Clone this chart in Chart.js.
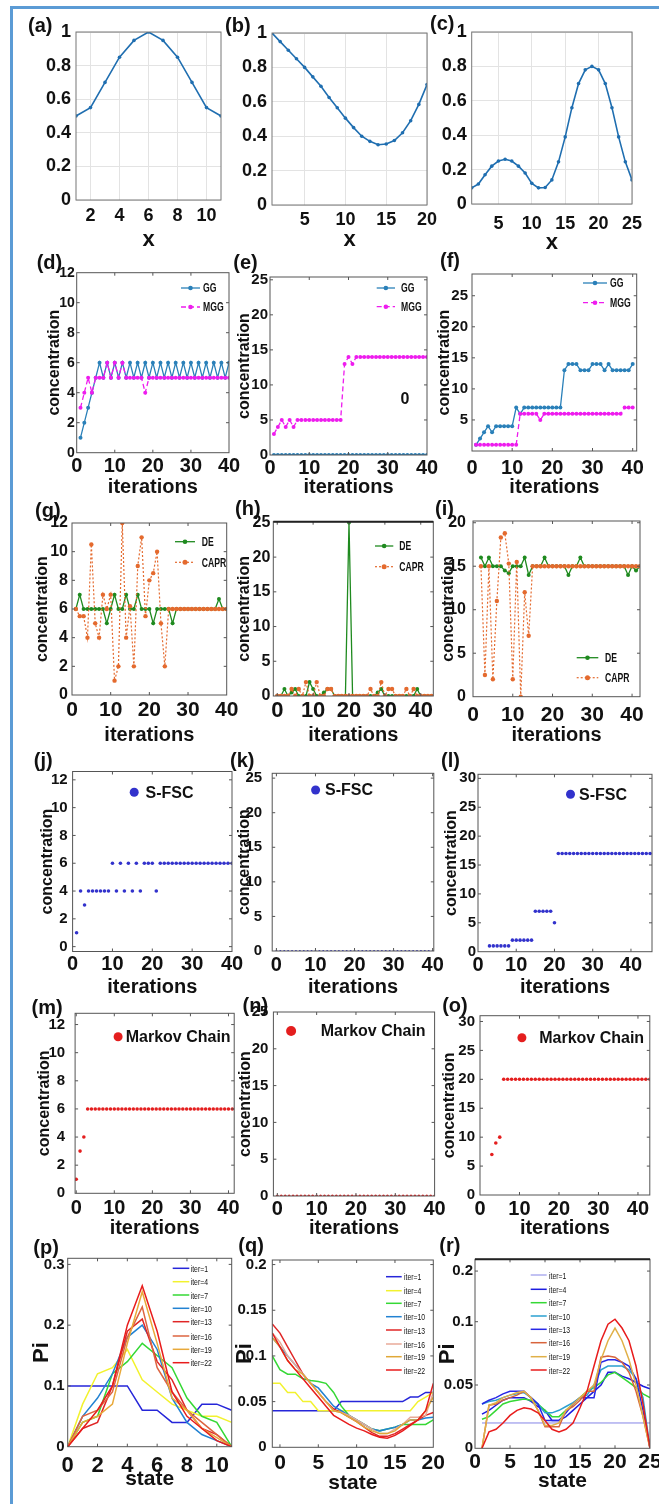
<!DOCTYPE html>
<html>
<head>
<meta charset="utf-8">
<script src="https://cdn.jsdelivr.net/npm/chart.js@4.4.0/dist/chart.umd.min.js"></script>
<style>
  html, body { margin: 0; padding: 0; background: #fff; }
  body { width: 659px; height: 1504px; position: relative; overflow: hidden; }
  canvas { position: absolute; }
  .border { position: absolute; left: 10px; top: 6px; width: 700px; height: 1600px;
            border-left: 3px solid #5b9bd5; border-top: 3px solid #5b9bd5; }
  .tag { position: absolute; font: bold 20px "Liberation Sans", Arial, sans-serif; line-height: 22px; color: #111; }
</style>
</head>
<body>
<div class="border"></div>
<script>
function seq(a, b) { const r = []; for (let v = a; v <= b; v++) r.push(v); return r; }

// ---- row 1: test functions ----
const aX = seq(1, 11);
const aVal = [0.5, 0.55, 0.7, 0.85, 0.95, 1.0, 0.95, 0.85, 0.7, 0.55, 0.5];
const bX = seq(1, 20);
const bVal = [1.0, 0.95, 0.90, 0.85, 0.80, 0.745, 0.69, 0.625, 0.565, 0.505,
              0.45, 0.40, 0.37, 0.35, 0.355, 0.375, 0.42, 0.49, 0.585, 0.70];
const cX = seq(1, 25);
const cVal = [0.094, 0.116, 0.17, 0.22, 0.25, 0.26, 0.25, 0.22, 0.18, 0.12,
              0.094, 0.096, 0.14, 0.245, 0.39, 0.56, 0.70, 0.78, 0.80, 0.78,
              0.70, 0.56, 0.39, 0.245, 0.14];

// ---- row 2: GG / MGG ----
const it40 = seq(1, 40);
const dGG  = [1,2,3,4,5,6,5,6,5,6, 5,6,5,6,5,6,5,6,5,6, 5,6,5,6,5,6,5,6,5,6, 5,6,5,6,5,6,5,6,5,6];
const dMGG = [3,4,5,4,5,5,5,6,5,6, 5,6,5,5,5,5,5,4,5,5, 5,5,5,5,5,5,5,5,5,5, 5,5,5,5,5,5,5,5,5,5];
const eGG  = [0,0,0,0,0,0,0,0,0,0, 0,0,0,0,0,0,0,0,0,0, 0,0,0,0,0,0,0,0,0,0, 0,0,0,0,0,0,0,0,0,0];
const eMGG = [3,4,5,4,5,4,5,5,5,5, 5,5,5,5,5,5,5,5,13,14, 13,14,14,14,14,14,14,14,14,14, 14,14,14,14,14,14,14,14,14,14];
const fGG  = [1,2,3,4,3,4,4,4,4,4, 7,6,7,7,7,7,7,7,7,7, 7,7,13,14,14,14,13,13,13,14, 14,14,13,14,13,13,13,13,13,14];
const fMGG = [1,1,1,1,1,1,1,1,1,1, 1,6,6,6,6,6,5,6,6,6, 6,6,6,6,6,6,6,6,6,6, 6,6,6,6,6,6,6,7,7,7];

// ---- row 3: DE / CAPR ----
const gDE   = [6,7,6,6,6,6,6,6,5,6, 7,6,6,7,6,6,7,6,6,6, 5,6,6,6,6,5,6,6,6,6, 6,6,6,6,6,6,6,6.7,6,6];
const gCAPR = [6,5.5,5.5,4,10.5,5,4,7,6,7, 1,2,12,4,6.2,2,9,11,5.5,8, 8.5,10,5,2,6,6,6,6,6,6, 6,6,6,6,6,6,6,6,6,6];
const hX = seq(0, 43);
const hDE   = [0,0,1,0,0.5,1,0,0,0,2, 1,0,0,0.5,1,1,0,0,0,0, 25,0,0,0,0,0,0,0,0.5,1, 0,0,0,0,0,0,0,0,0,1, 0,0,0,0];
const hCAPR = [0,0,0,0,1,0,1,0,2,0, 0,2,0,0,1,1,0,0,0,0, 0,0,0,0,0,0,1,0,0,2, 0,1,1,0,0,0,1,0,1,0, 0,0,0,0];
const iX = seq(2, 42);
const iDE   = [16,15,16,15,15,15,14.5,14.2,15,15, 15,16,14,15,15,15,16,15,15,15, 15,15,14,15,15,16,15,15,15,15,
               15,15,15,15,15,15,15,14,15,14.5, 15];
const iCAPR = [15,2.5,15,2,11,18.3,18.8,15.3,2,15.5, 0,12,7,15,15,15,15,15,15,15, 15,15,15,15,15,15,15,15,15,15,
               15,15,15,15,15,15,15,15,15,15, 15];

// ---- row 4: S-FSC ----
const jVal = [1,4,3,4,4,4,4,4,4,6, 4,6,4,6,4,6,4,6,6,6, 4,6,6,6,6,6,6,6,6,6, 6,6,6,6,6,6,6,6,6,6];
const kX = seq(0, 40);
const kVal = [0,0,0,0,0,0,0,0,0,0, 0,0,0,0,0,0,0,0,0,0, 0,0,0,0,0,0,0,0,0,0, 0,0,0,0,0,0,0,0,0,0, 0];
const lX = seq(3, 45);
const lVal = [1,1,1,1,1,1,2,2,2,2, 2,2,7,7,7,7,7,5,17,17, 17,17,17,17,17,17,17,17,17,17,
              17,17,17,17,17,17,17,17,17,17, 17,17,17];

// ---- row 5: Markov chain ----
const mX = seq(0, 41);
const mVal = [1,3,4,6,6,6,6,6,6,6, 6,6,6,6,6,6,6,6,6,6, 6,6,6,6,6,6,6,6,6,6, 6,6,6,6,6,6,6,6,6,6, 6,6];
const nX = seq(0, 40);
const nVal = [0,0,0,0,0,0,0,0,0,0, 0,0,0,0,0,0,0,0,0,0, 0,0,0,0,0,0,0,0,0,0, 0,0,0,0,0,0,0,0,0,0, 0];
const oX = seq(3, 43);
const oVal = [7,9,10,20,20,20,20,20,20,20, 20,20,20,20,20,20,20,20,20,20, 20,20,20,20,20,20,20,20,20,20,
              20,20,20,20,20,20,20,20,20,20, 20];

// ---- row 6: stationary distributions ----
const iterLabels = ['iter=1', 'iter=4', 'iter=7', 'iter=10', 'iter=13', 'iter=16', 'iter=19', 'iter=22'];
const pX = seq(0, 11);
const pPi = [
  [0.1,0.1,0.1,0.1,0.1,0.06,0.06,0.04,0.04,0.07,0.07,0.06],
  [0,0.07,0.12,0.13,0.16,0.11,0.09,0.07,0.06,0.05,0.05,0.04],
  [0,0.04,0.05,0.12,0.14,0.17,0.15,0.13,0.08,0.05,0.04,0],
  [0,0.05,0.08,0.12,0.18,0.20,0.16,0.08,0.04,0.02,0.01,0],
  [0,0.03,0.04,0.10,0.19,0.21,0.14,0.11,0.06,0.03,0.02,0],
  [0,0.05,0.06,0.09,0.18,0.23,0.13,0.09,0.06,0.04,0.02,0],
  [0,0.04,0.05,0.07,0.17,0.255,0.17,0.08,0.06,0.03,0.015,0],
  [0,0.03,0.06,0.10,0.20,0.265,0.19,0.09,0.05,0.03,0.01,0]
];
const qX = seq(-1, 20);
const qPi = [
  [0.04,0.04,0.04,0.04,0.04,0.04,0.04,0.04,0.04,0.05, 0.05,0.05,0.05,0.05,0.05,0.05,0.05,0.05,0.055,0.055, 0.06,0.06],
  [0.07,0.07,0.06,0.06,0.05,0.05,0.04,0.04,0.04,0.04, 0.04,0.04,0.04,0.04,0.04,0.04,0.04,0.04,0.04,0.05, 0.055,0.06],
  [0.10,0.085,0.08,0.08,0.075,0.073,0.072,0.07,0.06,0.045, 0.035,0.03,0.025,0.02,0.018,0.02,0.022,0.025,0.025,0.025, 0.025,0.03],
  [0.12,0.11,0.10,0.09,0.08,0.07,0.065,0.055,0.045,0.04, 0.035,0.03,0.025,0.02,0.018,0.02,0.022,0.025,0.03,0.03, 0.032,0.033],
  [0.135,0.125,0.11,0.095,0.08,0.07,0.06,0.05,0.042,0.038, 0.033,0.028,0.022,0.016,0.012,0.012,0.015,0.02,0.025,0.03, 0.035,0.038],
  [0.125,0.115,0.10,0.09,0.08,0.07,0.06,0.05,0.04,0.038, 0.035,0.03,0.025,0.02,0.015,0.015,0.02,0.025,0.033,0.033, 0.035,0.06],
  [0.12,0.11,0.095,0.085,0.08,0.07,0.06,0.05,0.04,0.038, 0.033,0.028,0.022,0.018,0.015,0.015,0.018,0.025,0.03,0.03, 0.04,0.055],
  [0.125,0.11,0.095,0.085,0.075,0.065,0.055,0.045,0.035,0.03, 0.025,0.021,0.018,0.014,0.011,0.01,0.013,0.018,0.024,0.03, 0.04,0.07]
];
const rX = seq(1, 25);
const rPi = [
  [0.02,0.02,0.02,0.02,0.02,0.02,0.02,0.02,0.02,0.02, 0.02,0.02,0.02,0.02,0.02,0.02,0.02,0.02,0.02,0.02, 0.02,0.02,0.02,0.02,0.02],
  [0.027,0.03,0.034,0.038,0.04,0.04,0.04,0.037,0.033,0.03, 0.022,0.022,0.025,0.03,0.035,0.04,0.045,0.05,0.06,0.06, 0.057,0.055,0.052,0.049,0.047],
  [0.023,0.025,0.03,0.035,0.037,0.038,0.039,0.038,0.035,0.03, 0.025,0.025,0.03,0.035,0.04,0.045,0.048,0.052,0.058,0.06, 0.056,0.052,0.048,0.043,0.04],
  [0.035,0.037,0.038,0.04,0.042,0.043,0.044,0.04,0.035,0.028, 0.028,0.03,0.033,0.036,0.04,0.042,0.05,0.062,0.065,0.065, 0.065,0.062,0.055,0.04,0],
  [0.035,0.038,0.04,0.043,0.045,0.045,0.045,0.04,0.035,0.022, 0.022,0.022,0.028,0.035,0.04,0.04,0.04,0.068,0.07,0.07, 0.068,0.065,0.055,0.03,0],
  [0,0.034,0.035,0.038,0.04,0.042,0.045,0.04,0.03,0.017, 0.017,0.017,0.03,0.033,0.038,0.045,0.045,0.072,0.073,0.072, 0.068,0.06,0.045,0.025,0],
  [0,0.034,0.036,0.04,0.042,0.044,0.045,0.04,0.03,0.018, 0.018,0.02,0.03,0.035,0.04,0.045,0.05,0.07,0.085,0.095, 0.085,0.07,0.05,0.025,0],
  [0,0.013,0.015,0.02,0.026,0.03,0.032,0.031,0.028,0.022, 0.015,0.013,0.015,0.02,0.032,0.045,0.065,0.085,0.098,0.102, 0.095,0.085,0.065,0.035,0]
];

// ---- ticks ----
const unitTicks = [0, 0.2, 0.4, 0.6, 0.8, 1];
const aXTicks = [2, 4, 6, 8, 10];
const bXTicks = [5, 10, 15, 20];
const cXTicks = [5, 10, 15, 20, 25];
const iterTicks = [0, 10, 20, 30, 40];
const y12Ticks = [0, 2, 4, 6, 8, 10, 12];
const y25Ticks = [0, 5, 10, 15, 20, 25];
const fYTicks = [5, 10, 15, 20, 25];
const y20Ticks = [0, 5, 10, 15, 20];
const y30Ticks = [0, 5, 10, 15, 20, 25, 30];
const pXTicks = [0, 2, 4, 6, 8, 10];
const pYTicks = [0, 0.1, 0.2, 0.3];
const qXTicks = [0, 5, 10, 15, 20];
const qYTicks = [0, 0.05, 0.1, 0.15, 0.2];
const rXTicks = [0, 5, 10, 15, 20, 25];
const rYTicks = [0, 0.05, 0.1, 0.14];
const rYLabels = ['0', '0.05', '0.1', '0.2'];

// ---- colours ----
const LINE_BLUE = '#1f6eb0', GG_C = '#2a80b9', MGG_C = '#ee1cee', DE_C = '#1f8a1f', CAPR_C = '#e46a2e';
const FSC_C = '#3232cc', MC_C = '#e41e1e';
const pColors = ['#2626d9', '#f2f22e', '#35d835', '#2282d2', '#e02626', '#dd6440', '#e8a93a', '#e81c1c'];
const qColors = ['#2626d9', '#f2f22e', '#35d835', '#2282d2', '#e02626', '#e8aa98', '#e0a838', '#e81c1c'];
const rColors = ['#8585e6', '#1c1ce0', '#35d835', '#2ba0d0', '#2828e6', '#d8643c', '#e0b048', '#e81c1c'];

const FONT = '"Liberation Sans", Arial, Helvetica, sans-serif';

function pts(xs, ys) { return ys.map((y, i) => ({ x: xs[i], y })); }
function curve(label, xs, ys, color, o) {
  return Object.assign({ label, data: pts(xs, ys), borderColor: color, backgroundColor: color,
    pointBackgroundColor: color, pointBorderWidth: 0, borderWidth: 1.5, pointRadius: 0, tension: 0 }, o || {});
}
function dots(label, xs, ys, color, r) {
  return curve(label, xs, ys, color, { showLine: false, pointRadius: r });
}
function family(label, xs, rows, colors) {
  return rows.map((ys, i) => curve(label[i], xs, ys, colors[i], { borderWidth: 1.5 }));
}

// box, inner tick marks, legend and notes
const framePlugin = {
  id: 'frame',
  afterDatasetsDraw(chart, args, o) {
    const { ctx, chartArea: a, scales } = chart;
    ctx.save();
    ctx.setLineDash([]);
    ctx.strokeStyle = o.color || '#555';
    ctx.lineWidth = 1;
    ctx.strokeRect(a.left, a.top, a.right - a.left, a.bottom - a.top);
    if (o.ticks) {
      ctx.beginPath();
      scales.x.ticks.forEach(t => {
        const px = scales.x.getPixelForValue(t.value);
        if (px <= a.left + 1 || px >= a.right - 1) return;
        ctx.moveTo(px, a.bottom); ctx.lineTo(px, a.bottom - 3);
        ctx.moveTo(px, a.top); ctx.lineTo(px, a.top + 3);
      });
      scales.y.ticks.forEach(t => {
        const py = scales.y.getPixelForValue(t.value);
        if (py <= a.top + 1 || py >= a.bottom - 1) return;
        ctx.moveTo(a.left, py); ctx.lineTo(a.left + 3, py);
        ctx.moveTo(a.right, py); ctx.lineTo(a.right - 3, py);
      });
      ctx.stroke();
    }
    if (o.topDark) {
      ctx.strokeStyle = '#222'; ctx.lineWidth = 2;
      ctx.beginPath(); ctx.moveTo(a.left, a.top); ctx.lineTo(a.right, a.top); ctx.stroke();
    }
    (o.legend || []).forEach(e => {
      const d = chart.data.datasets[e.ds];
      const y = e.y - o.oy;
      if (e.dot) {
        ctx.fillStyle = d.borderColor;
        ctx.beginPath(); ctx.arc(e.cx - o.ox, y, e.dot, 0, Math.PI * 2); ctx.fill();
      } else {
        const x0 = o.lx0 - o.ox, x1 = o.lx1 - o.ox;
        ctx.strokeStyle = d.borderColor; ctx.lineWidth = d.borderWidth;
        ctx.setLineDash(d.borderDash || []);
        ctx.beginPath(); ctx.moveTo(x0, y); ctx.lineTo(x1, y); ctx.stroke();
        ctx.setLineDash([]);
        if (d.pointRadius) {
          ctx.fillStyle = d.borderColor;
          ctx.beginPath(); ctx.arc((x0 + x1) / 2, y, d.pointRadius + 0.3, 0, Math.PI * 2); ctx.fill();
        }
      }
      ctx.fillStyle = '#111';
      ctx.font = o.lfont;
      ctx.textBaseline = 'middle';
      ctx.textAlign = 'left';
      ctx.save();
      ctx.translate((e.tx || o.ltx) - o.ox, y + 1);
      ctx.scale(o.lsx || 1, 1);
      ctx.fillText(d.label, 0, 0);
      ctx.restore();
    });
    (o.notes || []).forEach(n => {
      ctx.fillStyle = '#111'; ctx.font = n.font;
      ctx.textAlign = 'center'; ctx.textBaseline = 'middle';
      ctx.fillText(n.text, scales.x.getPixelForValue(n.x), scales.y.getPixelForValue(n.y));
    });
    ctx.restore();
  }
};

function axis(a, grid, fit) {
  return {
    type: 'linear', min: a.min, max: a.max,
    afterBuildTicks: s => { s.ticks = a.ticks.map(v => ({ value: v })); },
    afterFit: s => { fit(s); s.paddingLeft = 0; s.paddingRight = 0; s.paddingTop = 0; s.paddingBottom = 0; },
    grid: { display: !!grid, color: '#e3e3e3', drawTicks: false },
    border: { display: false },
    ticks: {
      font: { family: FONT, size: a.size, weight: 'bold' }, color: '#111', padding: a.pad,
      maxRotation: 0, autoSkip: false,
      callback: (v, i) => a.labels ? a.labels[i] : String(v)
    },
    title: {
      display: !!a.title, text: a.title || '', color: '#111', padding: 0,
      font: { family: FONT, size: a.titleSize || 16, weight: 'bold' }
    }
  };
}

function panel(p) {
  const left = Math.round(p.y.title ? p.y.titleX - 0.6 * p.y.titleSize : p.box[0] - 45);
  const top = Math.round(p.box[1] - 12);
  const w = Math.round(p.box[2] + 16) - left;
  const h = Math.round(p.x.titleY + 0.6 * p.x.titleSize) - top;
  const ML = p.box[0] - left, MB = top + h - p.box[3];
  const cv = document.createElement('canvas');
  cv.width = w; cv.height = h;
  cv.style.left = left + 'px'; cv.style.top = top + 'px';
  document.body.appendChild(cv);
  const n = p.datasets.length;
  p.datasets.forEach((d, i) => { d.order = n - i; });
  new Chart(cv, {
    type: 'line',
    data: { datasets: p.datasets },
    options: {
      responsive: false, animation: false, devicePixelRatio: 1, events: [],
      layout: { padding: { left: 0, bottom: 0, top: p.box[1] - top, right: left + w - p.box[2] } },
      plugins: {
        legend: { display: false }, tooltip: { enabled: false },
        frame: Object.assign({ ox: left, oy: top, ticks: !p.grid, color: p.grid ? '#777' : '#555' }, p.frame || {})
      },
      scales: {
        x: axis(p.x, p.grid, s => { s.height = MB; }),
        y: axis(p.y, p.grid, s => { s.width = ML; })
      }
    },
    plugins: [framePlugin]
  });
  const t = document.createElement('div');
  t.className = 'tag';
  t.textContent = p.tag[0];
  t.style.left = p.tag[1] + 'px';
  t.style.top = (p.tag[2] - 11) + 'px';
  document.body.appendChild(t);
}

const smallLegend = 'bold 12px ' + FONT;
const bigLegend = 'bold 16px ' + FONT;
const iterLegend = '9.5px ' + FONT;
const iterLegendRows = (ys) => ys.map((y, i) => ({ ds: i, y }));

// ---------- row 1 ----------
panel({ box: [76, 32, 221, 200], tag: ['(a)', 28, 25], grid: true,
  x: { min: 1, max: 11, ticks: aXTicks, size: 18, pad: 5, title: 'x', titleY: 240, titleSize: 22 },
  y: { min: 0, max: 1, ticks: unitTicks, size: 18, pad: 5 },
  datasets: [curve('f(x)', aX, aVal, LINE_BLUE, { pointRadius: 1.8, borderWidth: 1.6 })] });
panel({ box: [272, 33, 427, 205], tag: ['(b)', 225, 25], grid: true,
  x: { min: 1, max: 20, ticks: bXTicks, size: 18, pad: 4, title: 'x', titleY: 240, titleSize: 22 },
  y: { min: 0, max: 1, ticks: unitTicks, size: 18, pad: 5 },
  datasets: [curve('f(x)', bX, bVal, LINE_BLUE, { pointRadius: 1.8, borderWidth: 1.6 })] });
panel({ box: [471.7, 32, 632, 204], tag: ['(c)', 430, 23], grid: true,
  x: { min: 1, max: 25, ticks: cXTicks, size: 18, pad: 9, title: 'x', titleY: 243, titleSize: 22 },
  y: { min: 0, max: 1, ticks: unitTicks, size: 18, pad: 5 },
  datasets: [curve('f(x)', cX, cVal, LINE_BLUE, { pointRadius: 1.8, borderWidth: 1.6 })] });

// ---------- row 2 ----------
const ggSet = (g, m) => [
  curve('GG', it40, g, GG_C, { pointRadius: 2, borderWidth: 1.3 }),
  curve('MGG', it40, m, MGG_C, { pointRadius: 2, borderWidth: 1.3, borderDash: [5, 3] })
];
panel({ box: [76.7, 272.7, 229, 452.7], tag: ['(d)', 36.7, 261.7],
  x: { min: 0, max: 40, ticks: iterTicks, size: 20, pad: 2, title: 'iterations', titleY: 487, titleSize: 20 },
  y: { min: 0, max: 12, ticks: y12Ticks, size: 14, pad: 2, title: 'concentration', titleX: 55, titleSize: 16 },
  datasets: ggSet(dGG, dMGG),
  frame: { legend: [{ ds: 0, y: 288 }, { ds: 1, y: 307 }], lx0: 181, lx1: 200, ltx: 203, lfont: smallLegend, lsx: 0.72 } });
panel({ box: [270, 277, 427, 455], tag: ['(e)', 233.3, 261.7],
  x: { min: 0, max: 40, ticks: iterTicks, size: 20, pad: 1, title: 'iterations', titleY: 487, titleSize: 20 },
  y: { min: 0, max: 25.4, ticks: y25Ticks, size: 15, pad: 2, title: 'concentration', titleX: 245, titleSize: 16 },
  datasets: ggSet(eGG, eMGG),
  frame: { legend: [{ ds: 0, y: 288 }, { ds: 1, y: 306.7 }], lx0: 376.7, lx1: 395, ltx: 401, lfont: smallLegend, lsx: 0.72,
           notes: [{ x: 34.4, y: 7.9, text: '0', font: 'bold 16px ' + FONT }] } });
panel({ box: [472, 274, 636.7, 451], tag: ['(f)', 440, 260],
  x: { min: 0, max: 41, ticks: iterTicks, size: 20, pad: 5, title: 'iterations', titleY: 487, titleSize: 20 },
  y: { min: 0, max: 28.5, ticks: fYTicks, size: 15, pad: 4, title: 'concentration', titleX: 445, titleSize: 16 },
  datasets: ggSet(fGG, fMGG),
  frame: { legend: [{ ds: 0, y: 283 }, { ds: 1, y: 302.7 }], lx0: 583, lx1: 607, ltx: 610, lfont: smallLegend, lsx: 0.72 } });

// ---------- row 3 ----------
const deSet = (xs, de, capr) => [
  curve('DE', xs, de, DE_C, { pointRadius: 2, borderWidth: 1.3 }),
  curve('CAPR', xs, capr, CAPR_C, { pointRadius: 2.2, borderWidth: 1.2, borderDash: [2, 2] })
];
panel({ box: [72, 523, 226.7, 695], tag: ['(g)', 35, 510],
  x: { min: 0, max: 40, ticks: iterTicks, size: 21, pad: 2.4, title: 'iterations', titleY: 735, titleSize: 20 },
  y: { min: 0, max: 12, ticks: y12Ticks, size: 16, pad: 4, title: 'concentration', titleX: 42.7, titleSize: 16 },
  datasets: deSet(it40, gDE, gCAPR),
  frame: { legend: [{ ds: 0, y: 541.7 }, { ds: 1, y: 562.3 }], lx0: 175, lx1: 195, ltx: 201.7, lfont: smallLegend, lsx: 0.72 } });
panel({ box: [273.3, 521.7, 433.3, 696], tag: ['(h)', 235, 508.3],
  x: { min: -1.1, max: 43.5, ticks: iterTicks, size: 22, pad: 1.5, title: 'iterations', titleY: 735, titleSize: 20 },
  y: { min: 0, max: 25.1, ticks: y25Ticks, size: 16, pad: 3, title: 'concentration', titleX: 245, titleSize: 16 },
  datasets: deSet(hX, hDE, hCAPR),
  frame: { topDark: true, legend: [{ ds: 0, y: 546 }, { ds: 1, y: 566.7 }], lx0: 375, lx1: 393.3, ltx: 399.3, lfont: smallLegend, lsx: 0.72 } });
panel({ box: [473, 521, 640, 696.7], tag: ['(i)', 435, 508.3],
  x: { min: 0, max: 42, ticks: iterTicks, size: 21, pad: 5.5, title: 'iterations', titleY: 735, titleSize: 20 },
  y: { min: 0, max: 20.2, ticks: y20Ticks, size: 16, pad: 7, title: 'concentration', titleX: 448.3, titleSize: 16 },
  datasets: deSet(iX, iDE, iCAPR),
  frame: { legend: [{ ds: 0, y: 657.7 }, { ds: 1, y: 677.7 }], lx0: 576.7, lx1: 598.3, ltx: 605, lfont: smallLegend, lsx: 0.72 } });

// ---------- row 4 ----------
panel({ box: [72.6, 771.5, 232, 951.5], tag: ['(j)', 33.8, 760],
  x: { min: 0, max: 40, ticks: iterTicks, size: 20, pad: 1, title: 'iterations', titleY: 987, titleSize: 20 },
  y: { min: -0.35, max: 12.6, ticks: y12Ticks, size: 15, pad: 5, title: 'concentration', titleX: 47.7, titleSize: 16 },
  datasets: [dots('S-FSC', it40, jVal, FSC_C, 1.8)],
  frame: { legend: [{ ds: 0, y: 792.3, cx: 134.2, dot: 4.5, tx: 145.6 }], lfont: bigLegend } });
panel({ box: [272.2, 773.3, 433.8, 951], tag: ['(k)', 230, 760],
  x: { min: -1.08, max: 40.3, ticks: iterTicks, size: 20, pad: 2, title: 'iterations', titleY: 987, titleSize: 20 },
  y: { min: 0, max: 25.7, ticks: y25Ticks, size: 15, pad: 10, title: 'concentration', titleX: 244.7, titleSize: 16 },
  datasets: [dots('S-FSC', kX, kVal, FSC_C, 1.0)],
  frame: { legend: [{ ds: 0, y: 790, cx: 315.6, dot: 4.5, tx: 325 }], lfont: bigLegend } });
panel({ box: [478, 774.3, 652, 951.7], tag: ['(l)', 441, 760],
  x: { min: 0, max: 45.5, ticks: iterTicks, size: 20, pad: 2, title: 'iterations', titleY: 987, titleSize: 20 },
  y: { min: 0, max: 30.7, ticks: y30Ticks, size: 15, pad: 2, title: 'concentration', titleX: 451.5, titleSize: 16 },
  datasets: [dots('S-FSC', lX, lVal, FSC_C, 1.8)],
  frame: { legend: [{ ds: 0, y: 794.3, cx: 570.5, dot: 4.5, tx: 579 }], lfont: bigLegend } });

// ---------- row 5 ----------
panel({ box: [75.1, 1013.3, 234.2, 1193.3], tag: ['(m)', 31.6, 1006.7],
  x: { min: -0.3, max: 41.5, ticks: iterTicks, size: 20, pad: 3, title: 'iterations', titleY: 1228, titleSize: 20 },
  y: { min: 0, max: 12.8, ticks: y12Ticks, size: 15, pad: 10, title: 'concentration', titleX: 44.3, titleSize: 16 },
  datasets: [dots('Markov Chain', mX, mVal, MC_C, 1.8)],
  frame: { legend: [{ ds: 0, y: 1036.7, cx: 118.1, dot: 4.5, tx: 125.7 }], lfont: bigLegend } });
panel({ box: [273.4, 1012, 434.6, 1196], tag: ['(n)', 242.6, 1005],
  x: { min: -1, max: 40, ticks: iterTicks, size: 20, pad: 1, title: 'iterations', titleY: 1228, titleSize: 20 },
  y: { min: 0, max: 25, ticks: y25Ticks, size: 15, pad: 5, title: 'concentration', titleX: 246, titleSize: 16 },
  datasets: [dots('Markov Chain', nX, nVal, MC_C, 1.5)],
  frame: { legend: [{ ds: 0, y: 1031, cx: 291.1, dot: 5, tx: 320.7 }], lfont: bigLegend } });
panel({ box: [480, 1015.7, 649.8, 1195], tag: ['(o)', 442.2, 1005],
  x: { min: 0, max: 43, ticks: iterTicks, size: 20, pad: 2, title: 'iterations', titleY: 1228, titleSize: 20 },
  y: { min: 0, max: 31, ticks: y30Ticks, size: 15, pad: 5, title: 'concentration', titleX: 449.4, titleSize: 16 },
  datasets: [dots('Markov Chain', oX, oVal, MC_C, 1.8)],
  frame: { legend: [{ ds: 0, y: 1037.7, cx: 521.9, dot: 4.5, tx: 539.2 }], lfont: bigLegend } });

// ---------- row 6 ----------
panel({ box: [67.7, 1258.3, 231.7, 1446.7], tag: ['(p)', 33.3, 1246.7],
  x: { min: 0, max: 11, ticks: pXTicks, size: 22, pad: 6, title: 'state', titleY: 1479.3, titleSize: 21 },
  y: { min: 0, max: 0.31, ticks: pYTicks, size: 15, pad: 3, title: 'Pi', titleX: 41.7, titleSize: 22 },
  datasets: family(iterLabels, pX, pPi, pColors),
  frame: { legend: iterLegendRows([1268.3, 1281.7, 1295, 1308.3, 1321.7, 1336, 1349.3, 1362.7]),
           lx0: 172.7, lx1: 189.3, ltx: 190.7, lfont: iterLegend, lsx: 0.72 } });
panel({ box: [272.3, 1260, 433.3, 1447.3], tag: ['(q)', 238.3, 1245],
  x: { min: -1, max: 20, ticks: qXTicks, size: 21, pad: 3.4, title: 'state', titleY: 1483.3, titleSize: 21 },
  y: { min: 0, max: 0.205, ticks: qYTicks, size: 15, pad: 5.6, title: 'Pi', titleX: 245, titleSize: 22 },
  datasets: family(iterLabels, qX, qPi, qColors),
  frame: { legend: iterLegendRows([1276.7, 1290.7, 1303.3, 1316.7, 1330, 1344, 1356.7, 1370]),
           lx0: 386, lx1: 401.7, ltx: 404, lfont: iterLegend, lsx: 0.72 } });
const rSets = family(iterLabels, rX, rPi, rColors);
rSets[0].borderWidth = 1;
panel({ box: [475, 1259.3, 650, 1448.3], tag: ['(r)', 439.3, 1245],
  x: { min: 0, max: 25, ticks: rXTicks, size: 21, pad: 1, title: 'state', titleY: 1481.7, titleSize: 21 },
  y: { min: 0, max: 0.1493, ticks: rYTicks, labels: rYLabels, size: 15, pad: 2, title: 'Pi', titleX: 448.3, titleSize: 22 },
  datasets: rSets,
  frame: { topDark: true, legend: iterLegendRows([1275, 1289.3, 1302.7, 1316, 1329.3, 1342.7, 1356.7, 1370]),
           lx0: 530.7, lx1: 546.7, ltx: 549, lfont: iterLegend, lsx: 0.72 } });
</script>
</body>
</html>
